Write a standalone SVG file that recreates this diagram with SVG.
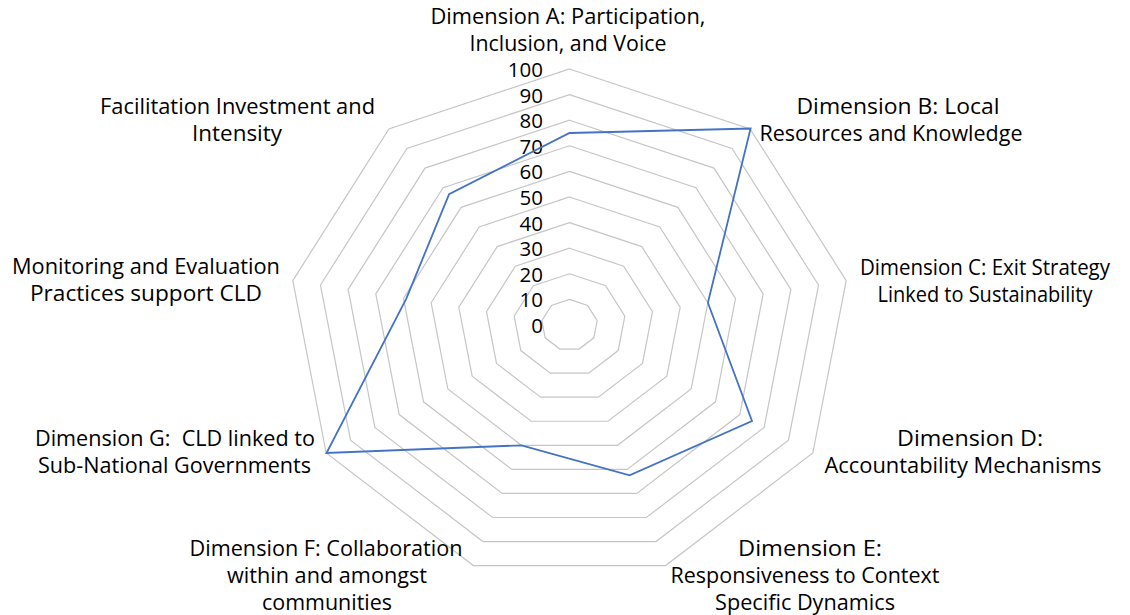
<svg xmlns="http://www.w3.org/2000/svg" xmlns:xlink="http://www.w3.org/1999/xlink" width="1130" height="615" viewBox="0 0 1130 615">
<style>
.ring{fill:none;stroke:#c6c6c6;stroke-width:1.2;vector-effect:non-scaling-stroke}
.lbl{font-family:"Open Sans","Liberation Sans",sans-serif;font-size:22px;fill:#000;text-anchor:middle}
.tick{font-family:"Open Sans","Liberation Sans",sans-serif;font-size:20.5px;fill:#000;text-anchor:end}
.data{fill:none;stroke:#4472C4;stroke-width:1.8;stroke-linejoin:miter}
</style>
<defs>
<polygon id="ring" class="ring" points="0,-256 180.6,-196.1 276.7,-44.4 243.3,128 96.1,240.6 -96.1,240.6 -243.3,128 -276.7,-44.4 -180.6,-196.1"/>
</defs>
<rect width="1130" height="615" fill="#fff"/>
<g id="grid" transform="translate(569.5,325)">
<use xlink:href="#ring" transform="scale(0.1)"/>
<use xlink:href="#ring" transform="scale(0.2)"/>
<use xlink:href="#ring" transform="scale(0.3)"/>
<use xlink:href="#ring" transform="scale(0.4)"/>
<use xlink:href="#ring" transform="scale(0.5)"/>
<use xlink:href="#ring" transform="scale(0.6)"/>
<use xlink:href="#ring" transform="scale(0.7)"/>
<use xlink:href="#ring" transform="scale(0.8)"/>
<use xlink:href="#ring" transform="scale(0.9)"/>
<use xlink:href="#ring"/>
</g>
<g id="ticks">
<text class="tick" x="543" y="77">100</text>
<text class="tick" x="543" y="102.6">90</text>
<text class="tick" x="543" y="128.2">80</text>
<text class="tick" x="543" y="153.8">70</text>
<text class="tick" x="543" y="179.4">60</text>
<text class="tick" x="543" y="205">50</text>
<text class="tick" x="543" y="230.6">40</text>
<text class="tick" x="543" y="256.2">30</text>
<text class="tick" x="543" y="281.8">20</text>
<text class="tick" x="543" y="307.4">10</text>
<text class="tick" x="543" y="333">0</text>
</g>
<g id="connectors">
<polygon class="data" points="569.5,133 750.6,128.5 707.9,302.8 752,421 629.6,475.4 521.5,445.3 326.5,453 406.2,298.8 449.1,194.2"/>
</g>
<g id="node-A">
<text class="lbl" x="568" y="24" textLength="275" lengthAdjust="spacingAndGlyphs">Dimension A: Participation,</text>
<text class="lbl" x="568" y="51" textLength="197" lengthAdjust="spacingAndGlyphs">Inclusion, and Voice</text>
</g>
<g id="node-B">
<text class="lbl" x="898" y="114" textLength="203" lengthAdjust="spacingAndGlyphs">Dimension B: Local</text>
<text class="lbl" x="891" y="141" textLength="263" lengthAdjust="spacingAndGlyphs">Resources and Knowledge</text>
</g>
<g id="node-C">
<text class="lbl" x="985" y="275" textLength="250" lengthAdjust="spacingAndGlyphs">Dimension C: Exit Strategy</text>
<text class="lbl" x="985" y="302" textLength="215" lengthAdjust="spacingAndGlyphs">Linked to Sustainability</text>
</g>
<g id="node-D">
<text class="lbl" x="970" y="446" textLength="146" lengthAdjust="spacingAndGlyphs">Dimension D:</text>
<text class="lbl" x="963" y="473" textLength="277" lengthAdjust="spacingAndGlyphs">Accountability Mechanisms</text>
</g>
<g id="node-E">
<text class="lbl" x="810" y="556" textLength="144" lengthAdjust="spacingAndGlyphs">Dimension E:</text>
<text class="lbl" x="805" y="583" textLength="269" lengthAdjust="spacingAndGlyphs">Responsiveness to Context</text>
<text class="lbl" x="805" y="610" textLength="180" lengthAdjust="spacingAndGlyphs">Specific Dynamics</text>
</g>
<g id="node-F">
<text class="lbl" x="326" y="556" textLength="273" lengthAdjust="spacingAndGlyphs">Dimension F: Collaboration</text>
<text class="lbl" x="327" y="583" textLength="200" lengthAdjust="spacingAndGlyphs">within and amongst</text>
<text class="lbl" x="327" y="610" textLength="130" lengthAdjust="spacingAndGlyphs">communities</text>
</g>
<g id="node-G">
<text class="lbl" x="175" y="446" textLength="280" lengthAdjust="spacingAndGlyphs" xml:space="preserve">Dimension G:  CLD linked to</text>
<text class="lbl" x="174.5" y="473" textLength="273" lengthAdjust="spacingAndGlyphs">Sub-National Governments</text>
</g>
<g id="node-Monitoring">
<text class="lbl" x="146" y="274" textLength="268" lengthAdjust="spacingAndGlyphs">Monitoring and Evaluation</text>
<text class="lbl" x="146" y="301" textLength="232" lengthAdjust="spacingAndGlyphs">Practices support CLD</text>
</g>
<g id="node-Facilitation">
<text class="lbl" x="237.5" y="114" textLength="275" lengthAdjust="spacingAndGlyphs">Facilitation Investment and</text>
<text class="lbl" x="237" y="141" textLength="90" lengthAdjust="spacingAndGlyphs">Intensity</text>
</g>
</svg>
